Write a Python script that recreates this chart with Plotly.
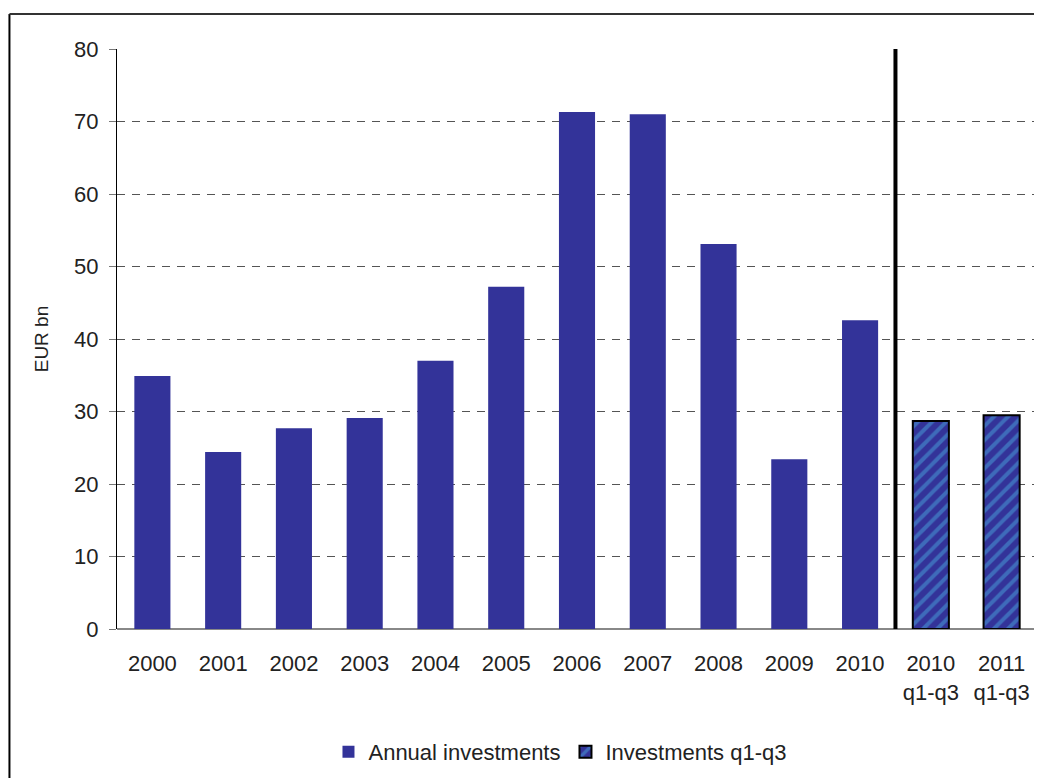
import plotly.graph_objects as go

categories = ["2000", "2001", "2002", "2003", "2004", "2005", "2006", "2007",
              "2008", "2009", "2010", "2010<br>q1-q3", "2011<br>q1-q3"]
annual_cats = categories[:11]
annual_values = [34.9, 24.4, 27.7, 29.1, 37.0, 47.2, 71.3, 71.0, 53.1, 23.4, 42.6]
q_cats = categories[11:]
q_values = [28.7, 29.5]
y_ticks = [0, 10, 20, 30, 40, 50, 60, 70, 80]

FONT = "Liberation Sans"
DARK = "#333399"

fig = go.Figure()
fig.add_trace(go.Bar(
    x=annual_cats, y=annual_values, name="Annual investments",
    marker=dict(color=DARK, line=dict(width=0)),
))
fig.add_trace(go.Bar(
    x=q_cats, y=q_values, name="Investments q1-q3",
    marker=dict(color=DARK, line=dict(color="black", width=2),
                pattern=dict(shape="/", fgcolor="#4aa3dc", bgcolor=DARK,
                             size=10, solidity=0.4, fillmode="overlay")),
))

# vertical separator between annual and q1-q3 data
fig.add_shape(type="line", xref="x", yref="y", x0=10.5, x1=10.5, y0=0, y1=80,
              line=dict(color="black", width=4))
# outer frame (left and top edges visible)
fig.add_shape(type="line", xref="paper", yref="paper", x0=-0.1169, x1=-0.1169,
              y0=-0.4, y1=1.0603, line=dict(color="black", width=2))
fig.add_shape(type="line", xref="paper", yref="paper", x0=-0.1169, x1=1.1,
              y0=1.0603, y1=1.0603, line=dict(color="#333333", width=2))

fig.update_layout(
    width=1042, height=778,
    margin=dict(l=109, r=13, t=41, b=157),
    paper_bgcolor="white", plot_bgcolor="white",
    barmode="overlay", bargap=0.49,
    font=dict(family=FONT, size=22, color="#222222"),
    showlegend=True,
    legend=dict(orientation="h", x=0.4815, xanchor="center", y=-0.212, yanchor="middle",
                font=dict(size=22), traceorder="normal", itemwidth=30),
)
fig.update_xaxes(
    type="category", categoryorder="array", categoryarray=categories,
    range=[-0.5, 12.5], showgrid=False, showline=False, ticks="",
    tickfont=dict(size=22), zeroline=False, ticklabelstandoff=19,
)
fig.update_yaxes(
    range=[0, 80], tickvals=y_ticks, showgrid=True, gridcolor="#555555",
    griddash="8px,7px", gridwidth=1, showline=True, linecolor="black", linewidth=1,
    ticks="outside", ticklen=7, tickcolor="#777777", zeroline=True,
    zerolinecolor="#888888", zerolinewidth=2, tickfont=dict(size=22),
    ticklabelstandoff=6,
    title=dict(text="EUR bn", font=dict(size=19), standoff=20),
)
fig.write_html("out.html")
